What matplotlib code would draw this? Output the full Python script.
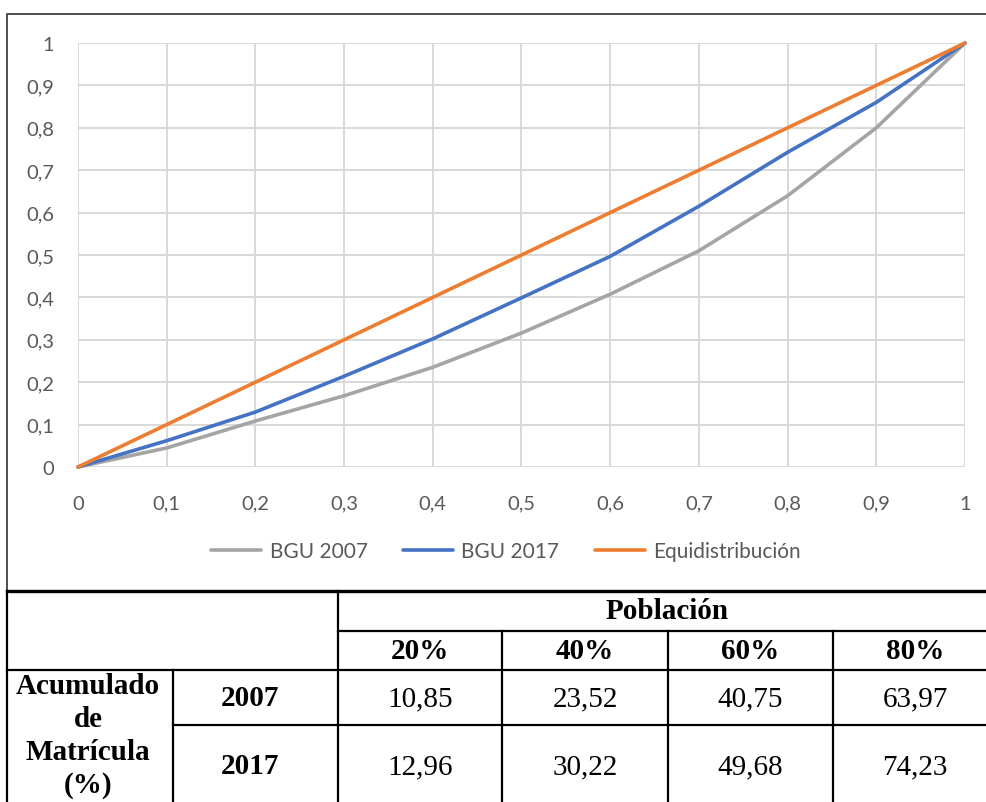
import matplotlib
matplotlib.use("Agg")
import matplotlib.pyplot as plt
from matplotlib.lines import Line2D

# ---------------- data ----------------
poblacion = [0, 0.1, 0.2, 0.3, 0.4, 0.5, 0.6, 0.7, 0.8, 0.9, 1.0]
bgu_2007 = [0, 0.045, 0.1085, 0.168, 0.2352, 0.316, 0.4075, 0.51, 0.6397, 0.80, 1.0]
bgu_2017 = [0, 0.062, 0.1296, 0.214, 0.3022, 0.399, 0.4968, 0.615, 0.7423, 0.86, 1.0]
equi = [0, 0.1, 0.2, 0.3, 0.4, 0.5, 0.6, 0.7, 0.8, 0.9, 1.0]
series_names = ["BGU 2007", "BGU 2017", "Equidistribución"]
series_colors = ["#A5A5A5", "#4472C4", "#ED7D31"]

tick_vals = [0, 0.1, 0.2, 0.3, 0.4, 0.5, 0.6, 0.7, 0.8, 0.9, 1]
tick_labels = ["0", "0,1", "0,2", "0,3", "0,4", "0,5", "0,6", "0,7", "0,8", "0,9", "1"]

table_group = "Población"
table_cols = ["20%", "40%", "60%", "80%"]
row_header = ["Acumulado", "de", "Matrícula", "(%)"]
row_years = ["2007", "2017"]
row_values = [["10,85", "23,52", "40,75", "63,97"],
              ["12,96", "30,22", "49,68", "74,23"]]

# ---------------- figure ----------------
W, H = 987, 803
fig = plt.figure(figsize=(W / 100, H / 100), dpi=100)
fig.patch.set_facecolor("white")

x0, x1, y0, y1 = 78, 965, 468, 44
ax = fig.add_axes([x0 / W, 1 - y0 / H, (x1 - x0) / W, (y0 - y1) / H])
ax.set_xlim(0, 1)
ax.set_ylim(0, 1)
for s in ax.spines.values():
    s.set_visible(False)
ax.set_xticks(tick_vals)
ax.set_xticklabels(tick_labels)
ax.set_yticks(tick_vals)
ax.set_yticklabels(tick_labels)
ax.grid(True, color="#D9D9D9", linewidth=1.4)
ax.set_axisbelow(True)
ax.tick_params(length=0, labelsize=14.5, labelcolor="#595959")
ax.tick_params(axis="y", pad=17)
ax.tick_params(axis="x", pad=20)
for lab in ax.get_xticklabels() + ax.get_yticklabels():
    lab.set_fontfamily("Lato")

handles = []
for ys, name, col in zip([bgu_2007, bgu_2017, equi], series_names, series_colors):
    h, = ax.plot(poblacion, ys, color=col, linewidth=2.6, label=name,
                 solid_capstyle="round", clip_on=False)
    handles.append(h)

leg = fig.legend(handles=handles, loc="center", bbox_to_anchor=(506 / W, 1 - 552 / H),
                 ncol=3, frameon=False, handlelength=2.4, handletextpad=0.4,
                 columnspacing=1.7, prop={"family": "Lato", "size": 15})
for t in leg.get_texts():
    t.set_color("#595959")

# ---------------- overlay for box and table ----------------
ov = fig.add_axes([0, 0, 1, 1])
ov.set_xlim(0, W)
ov.set_ylim(H, 0)
ov.axis("off")
ov.patch.set_alpha(0)

# chart border
ov.add_line(Line2D([7, 7, W + 10], [592, 15, 15], color="#404040", linewidth=1.3))

# table lines
lw = 1.6
def hline(xa, xb, y, w=lw):
    ov.add_line(Line2D([xa, xb], [y, y], color="black", linewidth=w))
def vline(x, ya, yb, w=lw):
    ov.add_line(Line2D([x, x], [ya, yb], color="black", linewidth=w))

col_edges = [7, 173, 338, 502, 668, 833, 997]

hline(7, W + 10, 592, 2.4)
hline(338, W + 10, 632)
hline(7, W + 10, 671)
hline(173, W + 10, 726)
vline(7, 592, H + 10)
vline(338, 592, H + 10)
vline(173, 671, H + 10)
for xc in col_edges[3:]:
    vline(xc, 632, H + 10)

serif = "Liberation Serif"
fs = 21
ov.text((338 + 997) / 2, 612, table_group, ha="center", va="center",
        fontsize=fs, fontweight="bold", family=serif)
for i, c in enumerate(table_cols):
    xc = (col_edges[i + 2] + col_edges[i + 3]) / 2
    ov.text(xc, 652, c, ha="center", va="center", fontsize=fs,
            fontweight="bold", family=serif)

row_centers = [699, 767]
for r, (yr, vals) in enumerate(zip(row_years, row_values)):
    ov.text(250, row_centers[r], yr, ha="center", va="center", fontsize=fs,
            fontweight="bold", family=serif)
    for i, v in enumerate(vals):
        xc = (col_edges[i + 2] + col_edges[i + 3]) / 2
        ov.text(xc, row_centers[r], v, ha="center", va="center", fontsize=fs,
                family=serif)

for k, line in enumerate(row_header):
    ov.text(88, 687 + 33 * k, line, ha="center", va="center", fontsize=fs,
            fontweight="bold", family=serif)

fig.savefig("out.png", dpi=100, facecolor="white")
